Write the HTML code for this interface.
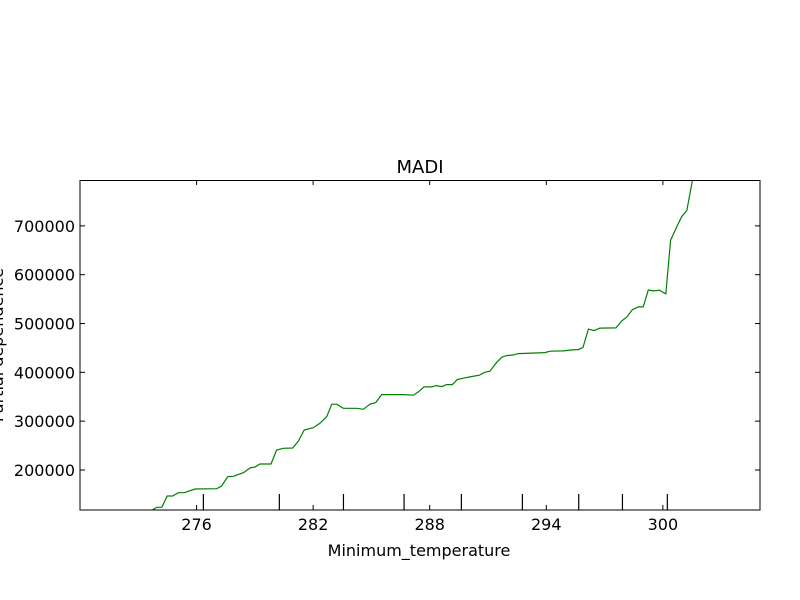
<!DOCTYPE html>
<html><head><meta charset="utf-8"><style>
body{margin:0;background:#fff;}
svg{display:block;font-family:"DejaVu Sans","Liberation Sans",sans-serif;}
</style></head><body>
<svg id="chart" width="800" height="600">
<rect width="800" height="600" fill="#fff"/>
<text x="420" y="173" font-size="18" text-anchor="middle">MADI</text>
<text x="419" y="556" font-size="16" text-anchor="middle">Minimum_temperature</text>
<text transform="translate(3,345) rotate(-90)" font-size="16" text-anchor="middle">Partial dependence</text>
<defs><clipPath id="plotclip"><rect x="80" y="180" width="680" height="330"/></clipPath></defs>
<g id="ticks"></g>
<g clip-path="url(#plotclip)"><path id="line" fill="none" stroke="#008000" stroke-width="1.2"/></g>
<g id="rug"></g>
<rect x="80" y="180.5" width="680" height="329.5" fill="none" stroke="#000" stroke-width="1"/>
</svg>
<script>
const xVals=[273.6,273.95,274.21,274.49,274.77,275.06,275.37,275.92,277.04,277.29,277.60,277.89,278.41,278.75,279.01,279.26,279.83,280.12,280.46,280.95,281.24,281.54,282.01,282.35,282.70,282.96,283.21,283.55,284.24,284.58,284.93,285.22,285.53,286.64,287.16,287.41,287.71,288.10,288.32,288.62,288.87,289.16,289.42,289.73,290.07,290.55,290.85,291.10,291.41,291.71,291.96,292.30,292.56,293.93,294.19,294.88,295.31,295.65,295.89,296.17,296.46,296.76,297.59,297.88,298.14,298.43,298.74,298.99,299.25,299.51,299.82,300.15,300.40,300.68,300.97,301.23,301.52,301.8];
const yVals=[115000,123560,123560,146720,146720,153480,153480,161070,161680,167210,186270,187090,194470,204100,206150,212300,212300,240980,244470,245080,259430,281970,286680,295700,309220,334630,334630,326430,326430,324380,334630,337910,354300,354300,353070,359840,370080,370080,372750,370700,374790,374790,385040,387910,390570,394060,400210,402260,418650,430950,434220,435660,438320,440370,443240,443850,445900,446520,451020,488520,485450,490570,490980,505330,512910,528480,534010,534010,568850,566800,568240,560660,670700,695290,719060,731350,792830,850000];
const rugVals=[276.35,280.26,283.56,286.68,289.63,292.77,295.67,297.92,300.23];
const xTicks=[276,282,288,294,300];
const yTicks=[200000,300000,400000,500000,600000,700000];
const X0=270,X1=305,Y0=118000,Y1=794000;
const sx=v=>80+(v-X0)/(X1-X0)*680;
const sy=v=>510-(v-Y0)/(Y1-Y0)*330;
const NS="http://www.w3.org/2000/svg";
document.getElementById('line').setAttribute('d',xVals.map((v,i)=>(i?'L':'M')+sx(v).toFixed(1)+','+sy(yVals[i]).toFixed(1)).join(''));
const tg=document.getElementById('ticks');
function mk(tag,attrs,parent){const e=document.createElementNS(NS,tag);for(const k in attrs)e.setAttribute(k,attrs[k]);parent.appendChild(e);return e;}
xTicks.forEach(t=>{const x=sx(t);
 const a=mk('line',{x1:x,x2:x,y1:510,y2:505,stroke:'#000'},tg);
 
 
 const b=mk('line',{x1:x,x2:x,y1:180,y2:185,stroke:'#000'},tg);
 
 
 const l=mk('text',{x:x,y:530,'font-size':16,'text-anchor':'middle'},tg);l.textContent=t;
 
 
});
yTicks.forEach(t=>{const y=sy(t);
 const a=mk('line',{x1:80,x2:85,y1:y,y2:y,stroke:'#000'},tg);
 
 
 const b=mk('line',{x1:760,x2:755,y1:y,y2:y,stroke:'#000'},tg);
 
 
 const l=mk('text',{x:75,y:y+6,'font-size':16,'text-anchor':'end'},tg);l.textContent=t;
 
 
});
const rg=document.getElementById('rug');
rugVals.forEach(v=>{const x=sx(v);
 const r=mk('line',{x1:x,x2:x,y1:510,y2:494,stroke:'#000','stroke-width':1.2},rg);
 
 
});
</script>
</body></html>
